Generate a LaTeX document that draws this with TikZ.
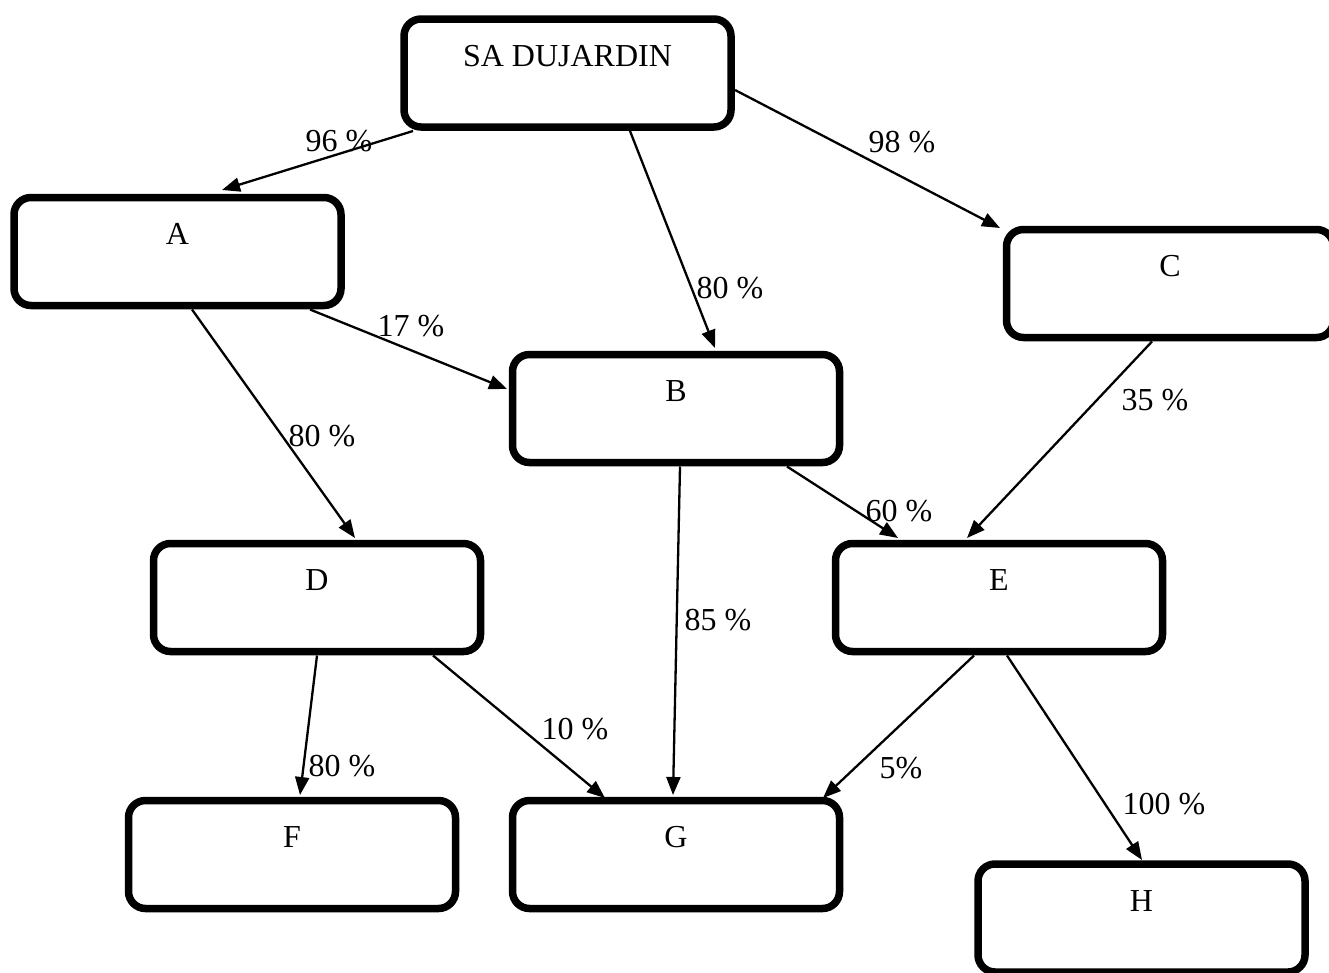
\documentclass[tikz,border=0pt]{standalone}
\usepackage{fontspec}
\setmainfont{Liberation Serif}
\usetikzlibrary{arrows.meta,calc}
\tikzset{
	box/.style={draw, line width=7.5pt, rounded corners=17pt, minimum width=327pt, minimum height=108pt,
		inner sep=0pt, text height=21pt, text depth=35pt, font=\fontsize{32}{38}\selectfont},
	flow/.style={line width=2.3pt, -{Triangle[length=18pt,width=14pt]}},
	pct/.style={inner sep=0pt, font=\fontsize{32}{38}\selectfont}
}
\begin{document}
\begin{tikzpicture}[x=1pt,y=-1pt]
	\useasboundingbox (0,0) rectangle (1329,972);
	% Boxes
	\node[box] (sa) at (567.5,73) {SA DUJARDIN};
	\node[box] (a) at (177.5,251.5) {A};
	\node[box] (c) at (1170,283.5) {C};
	\node[box] (b) at (676,408.5) {B};
	\node[box] (d) at (317,597.5) {D};
	\node[box] (e) at (999,597.5) {E};
	\node[box] (f) at (292,854.5) {F};
	\node[box] (g) at (676,854.5) {G};
	\node[box] (h) at (1141.5,918) {H};
	% Holdings
	\draw[flow] ($(sa)+(-154.5,58)$) -- ($(a)+(44.5,-61.5)$);
	\draw[flow] ($(sa)+(62.5,58)$) -- ($(b)+(39,-60.5)$);
	\draw[flow] ($(sa)+(167.5,17)$) -- ($(c)+(-170,-55.5)$);
	\draw[flow] ($(a)+(132.5,58)$) -- ($(b)+(-169,-19.5)$);
	\draw[flow] ($(a)+(14.5,58)$) -- ($(d)+(38,-59.5)$);
	\draw[flow] ($(c)+(-18,58)$) -- ($(e)+(-32,-59.5)$);
	\draw[flow] ($(b)+(111,58)$) -- ($(e)+(-101,-59.5)$);
	\draw[flow] ($(b)+(4,58)$) -- ($(g)+(-3,-59.5)$);
	\draw[flow] ($(d)+(0,58)$) -- ($(f)+(8,-59.5)$);
	\draw[flow] ($(d)+(116,58)$) -- ($(g)+(-71,-56.5)$);
	\draw[flow] ($(e)+(-25,58)$) -- ($(g)+(147,-56.5)$);
	\draw[flow] ($(e)+(8,58)$) -- ($(h)+(0.5,-58)$);
	% Labels
	\node[pct] (p96) at (339,141) {96 \%};
	\node[pct] (p80b) at (730,288) {80 \%};
	\node[pct] (p98) at (902,142) {98 \%};
	\node[pct] (p17) at (411,326) {17 \%};
	\node[pct] (p80d) at (322,436) {80 \%};
	\node[pct] (p35) at (1155,400) {35 \%};
	\node[pct] (p60) at (899,511) {60 \%};
	\node[pct] (p85) at (718,620) {85 \%};
	\node[pct] (p80f) at (342,766) {80 \%};
	\node[pct] (p10) at (575,729) {10 \%};
	\node[pct] (p5) at (901,768) {5\%};
	\node[pct] (p100) at (1164,804) {100 \%};
\end{tikzpicture}
\end{document}
